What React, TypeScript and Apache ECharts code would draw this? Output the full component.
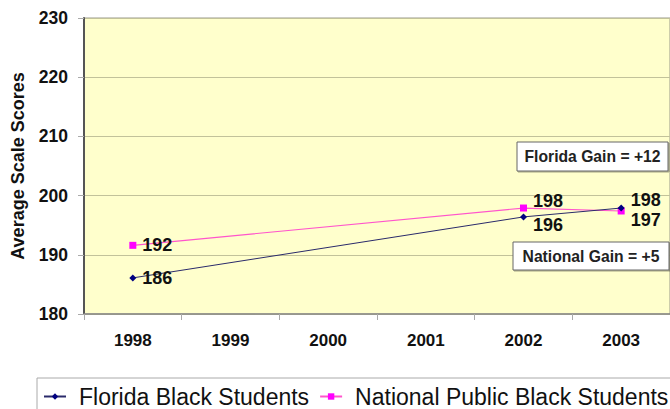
import React, { useEffect, useRef } from "react";
import * as echarts from "echarts";

const years = ["1998", "1999", "2000", "2001", "2002", "2003"];
const floridaScores: (number | null)[] = [186.1, null, null, null, 196.4, 197.9];
const nationalScores: (number | null)[] = [191.6, null, null, null, 197.9, 197.4];
const floridaLabelShift = [0, 0, 0, 0, 8, -8];
const nationalLabelShift = [0, 0, 0, 0, -7, 9];
const yMin = 180;
const yMax = 230;
const yStep = 10;
const floridaName = "Florida Black Students";
const nationalName = "National Public Black Students";
const floridaGain = "Florida Gain = +12";
const nationalGain = "National Gain = +5";

const FONT = "Arial, 'Liberation Sans', sans-serif";

function buildData(values: (number | null)[], shifts: number[]) {
  return values.map((v, i) =>
    v === null
      ? null
      : {
          value: v,
          label: { offset: [0, shifts[i]] },
        }
  );
}

export default function App() {
  const ref = useRef<HTMLDivElement>(null);
  useEffect(() => {
    if (!ref.current) return;
    const chart = echarts.init(ref.current, undefined, { renderer: "svg" });
    const labelStyle = {
      show: true,
      position: "right",
      distance: 6,
      fontFamily: FONT,
      fontWeight: "bold",
      fontSize: 18,
      lineHeight: 18,
      color: "#111",
      formatter: (p: any) => String(Math.round(p.value)),
    };
    const boxStyle = {
      fill: "#ffffff",
      stroke: "#666666",
      lineWidth: 1,
      shadowColor: "rgba(0,0,0,0.35)",
      shadowOffsetX: 1,
      shadowOffsetY: 1,
      shadowBlur: 1,
    };
    const boxText = {
      fontFamily: FONT,
      fontWeight: "bold",
      fontSize: 15.7,
      fill: "#222",
      align: "center",
      verticalAlign: "middle",
    };
    chart.setOption({
      animation: false,
      backgroundColor: "#ffffff",
      textStyle: { fontFamily: FONT },
      grid: {
        left: 84,
        top: 18,
        width: 588,
        height: 296,
        show: true,
        backgroundColor: "#FFFFCC",
        borderColor: "#9a9a8a",
        borderWidth: 1,
      },
      xAxis: {
        type: "category",
        data: years,
        boundaryGap: true,
        axisLine: { lineStyle: { color: "#888888", width: 1.5 } },
        axisTick: { show: true, length: 6, lineStyle: { color: "#aaaaaa" } },
        axisLabel: {
          fontFamily: FONT,
          fontWeight: "bold",
          fontSize: 17,
          color: "#111",
          margin: 18,
        },
        splitLine: { show: false },
      },
      yAxis: {
        type: "value",
        min: yMin,
        max: yMax,
        interval: yStep,
        name: "Average Scale Scores",
        nameLocation: "middle",
        nameRotate: 90,
        nameGap: 57,
        nameTextStyle: {
          fontFamily: FONT,
          fontWeight: "bold",
          fontSize: 18,
          color: "#111",
        },
        axisLine: { show: true, lineStyle: { color: "#555555", width: 2 } },
        axisTick: { show: true, length: 6, lineStyle: { color: "#aaaaaa" } },
        axisLabel: {
          fontFamily: FONT,
          fontWeight: "bold",
          fontSize: 17.5,
          color: "#111",
          margin: 16,
        },
        splitLine: { show: true, lineStyle: { color: "#c2c29a", width: 1 } },
      },
      legend: {
        left: 43,
        top: 380,
        width: 700,
        padding: [5, 0, 5, 0],
        itemGap: 10,
        itemWidth: 22,
        itemHeight: 8,
        textStyle: {
          fontFamily: FONT,
          fontSize: 23,
          color: "#111",
          padding: [0, 0, 0, 8],
        },
        data: [floridaName, nationalName],
      },
      graphic: [
        {
          type: "rect",
          z: -1,
          shape: { x: 37, y: 378, width: 650, height: 45 },
          style: { fill: "#ffffff", stroke: "#aaaaaa", lineWidth: 1 },
        },
        {
          type: "group",
          z: 100,
          children: [
            {
              type: "rect",
              z: 100,
              shape: { x: 517, y: 142, width: 151, height: 29 },
              style: boxStyle,
            },
            {
              type: "text",
              z: 101,
              x: 592.5,
              y: 156.5,
              style: { ...boxText, text: floridaGain },
            },
            {
              type: "rect",
              z: 100,
              shape: { x: 513, y: 242, width: 156, height: 28 },
              style: boxStyle,
            },
            {
              type: "text",
              z: 101,
              x: 591,
              y: 256,
              style: { ...boxText, text: nationalGain },
            },
          ],
        },
      ],
      series: [
        {
          name: floridaName,
          type: "line",
          data: buildData(floridaScores, floridaLabelShift),
          connectNulls: true,
          symbol: "diamond",
          symbolSize: 7,
          itemStyle: { color: "#000080" },
          lineStyle: { color: "#2a2a6a", width: 1 },
          label: labelStyle,
          z: 3,
        },
        {
          name: nationalName,
          type: "line",
          data: buildData(nationalScores, nationalLabelShift),
          connectNulls: true,
          symbol: "rect",
          symbolSize: 7,
          itemStyle: { color: "#FF00FF" },
          lineStyle: { color: "#FF55CC", width: 1.2 },
          label: labelStyle,
          z: 2,
        },
      ],
    });
    return () => chart.dispose();
  }, []);
  return (
    <div
      ref={ref}
      style={{ position: "absolute", left: 0, top: 0, width: 670, height: 409 }}
    />
  );
}
